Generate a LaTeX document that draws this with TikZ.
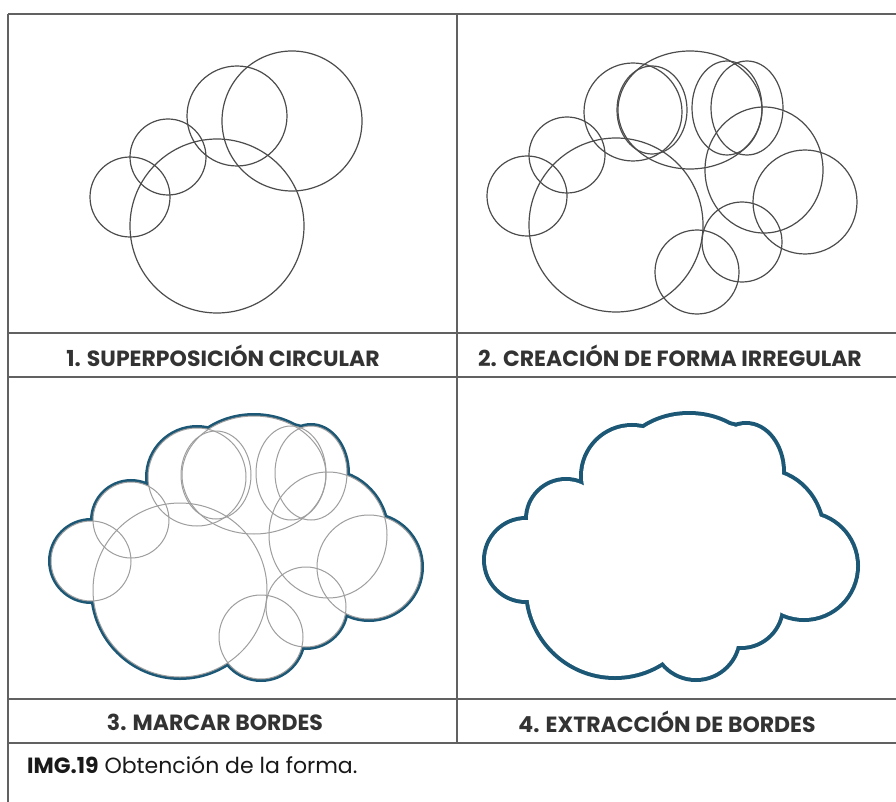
\documentclass[tikz,border=0pt]{standalone}
\usepackage{fontspec}
\setmainfont{Poppins}
\usepackage{tikz}
\definecolor{bordeazul}{RGB}{28,88,118}
\tikzset{%
	grid_line/.style={line width=1.4pt,color=black!62}
}
\tikzset{%
	sketch_circle/.style={draw,line width=1.2pt,color=black!70}
}
\tikzset{%
	faint_circle/.style={draw,line width=1pt,color=black!38}
}
\tikzset{%
	border_line/.style={draw,line width=6pt,color=bordeazul}
}
\tikzset{%
	panel_label/.style={font=\bfseries\fontsize{22}{24}\selectfont,text=black!80,inner sep=0pt}
}

% circles and ovals of the irregular shape (panel 2 positions)
\newcommand{\formparts}[1]{%
	\path[#1] (527,196) circle [radius=40pt];
	\path[#1] (567,155) circle [radius=38pt];
	\path[#1] (616,225) circle [radius=87pt];
	\path[#1] (633,112) circle [radius=49pt];
	\path[#1] (652,110) circle [x radius=35pt,y radius=44pt];
	\path[#1] (690,110) circle [x radius=72pt,y radius=59pt];
	\path[#1] (727,108) circle [x radius=35pt,y radius=47pt];
	\path[#1] (747,108) circle [x radius=36pt,y radius=47pt];
	\path[#1] (764,170) circle [x radius=59pt,y radius=63pt];
	\path[#1] (805,202) circle [radius=52pt];
	\path[#1] (742,242) circle [radius=40pt];
	\path[#1] (697,272) circle [radius=42pt];
}
% inner gap between the big circle and the right ovals
\newcommand{\formcore}{%
	\fill[white] (616,225)--(690,110)--(764,170)--(742,242)--cycle;
}

\begin{document}
\begin{tikzpicture}[x=1pt,y=-1pt]
		\useasboundingbox (0,0) rectangle (896,802);

		%Grid
		\draw [grid_line,line width=2pt] (8,14)--(896,14);
		\draw [grid_line] (8,14)--(8,802);
		\draw [grid_line] (457,14)--(457,743);
		\draw [grid_line] (8,333)--(896,333);
		\draw [grid_line] (8,377)--(896,377);
		\draw [grid_line] (8,699)--(896,699);
		\draw [grid_line] (8,743)--(896,743);

		%Panel 1
		\draw [sketch_circle] (217,226) circle [radius=87pt];
		\draw [sketch_circle] (292,121) circle [radius=70pt];
		\draw [sketch_circle] (237,116) circle [radius=50pt];
		\draw [sketch_circle] (168,157) circle [radius=38pt];
		\draw [sketch_circle] (130,197) circle [radius=40pt];

		%Panel 2
		\formparts{sketch_circle}

		%Panel 3
		\begin{scope}[shift={(-436,365)}]
			\formparts{border_line}
			\formparts{fill=white}
			\formcore
			\formparts{faint_circle}
		\end{scope}

		%Panel 4
		\begin{scope}[shift={(-1,364)}]
			\formparts{border_line,line width=8pt}
			\formparts{fill=white}
			\formcore
		\end{scope}

		%Labels
		\node [panel_label] (label_one) at (223,356) {1. SUPERPOSICIÓN CIRCULAR};
		\node [panel_label] (label_two) at (670,356) {2. CREACIÓN DE FORMA IRREGULAR};
		\node [panel_label] (label_three) at (215,722) {3. MARCAR BORDES};
		\node [panel_label] (label_four) at (667,722) {4. EXTRACCIÓN DE BORDES};
		\node [anchor=base west,inner sep=0pt,font=\fontsize{22}{25}\selectfont,text=black!90] (caption) at (27,773) {\textbf{IMG.19} Obtención de la forma.};

	\end{tikzpicture}
\end{document}
